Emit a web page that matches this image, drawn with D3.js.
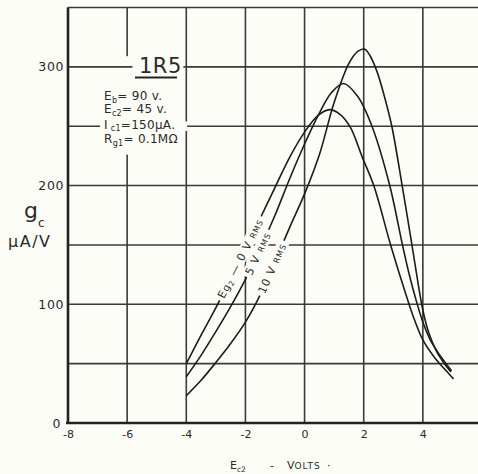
<!DOCTYPE html>
<html><head><meta charset="utf-8">
<script src="https://cdn.jsdelivr.net/npm/d3@7"></script>
<style>
html,body{margin:0;padding:0;background:#fdfdf8;}
svg{display:block;}
text{font-family:"DejaVu Sans",sans-serif;fill:#2a2a2a;}
</style></head><body>
<svg id="c" width="478" height="474"></svg>
<script>
// ---------- data ----------
const xGrid = [-8, -6, -4, -2, 0, 2, 4, 6];
const xTickValues = [-8, -6, -4, -2, 0, 2, 4];
const xTickLabels = ["-8", "-6", "-4", "-2", "0", "2", "4"];
const yGrid = [0, 50, 100, 150, 200, 250, 300, 350];
const yTickValues = [0, 100, 200, 300];
const yTickLabels = ["0", "100", "200", "300"];
const seriesNames = ["0 V RMS", "5 V RMS", "10 V RMS"];

const ec_0V = [-4, -3.5, -2.94, -2.45, -1.94, -1.45, -0.97, -0.5, 0, 0.45, 0.85, 1.2, 1.55, 1.95, 2.34, 2.91, 3.43, 3.7, 4.0, 4.4, 4.75, 5.04];
const gc_0V = [50, 74, 100, 125, 150, 175, 200, 224, 245, 259, 264, 260, 249, 224, 200, 150, 108, 88, 70, 55, 45, 37];

const ec_5V = [-4, -3.5, -3, -2.5, -2, -1.5, -1, -0.5, 0, 0.5, 0.9, 1.32, 1.8, 2.28, 2.88, 3.31, 3.55, 3.8, 4.0, 4.25, 4.55, 4.97];
const gc_5V = [39, 57, 77, 98, 121, 147, 175, 206, 235, 261, 278, 286, 275, 250, 200, 150, 124, 101, 85, 70, 58, 44];

const ec_10V = [-4, -3.5, -3, -2.5, -2, -1.5, -1, -0.5, 0, 0.5, 1.0, 1.5, 1.8, 2.02, 2.2, 2.45, 2.7, 2.95, 3.3, 3.63, 3.85, 4.0, 4.2, 4.45, 4.7, 4.95];
const gc_10V = [23, 36, 51, 67, 85, 108, 136, 165, 193, 226, 270, 303, 313, 315, 310, 296, 275, 250, 200, 150, 116, 95, 76, 61, 51, 43];

const labelAt = [-2.17, -1.58, -1.1];

// ---------- drawing ----------
const W = 478, H = 474, bg = "#fdfdf8";
const svg = d3.select("#c");
svg.append("rect").attr("width", W).attr("height", H).attr("fill", bg);

const x = d3.scaleLinear().domain([-8, 6]).range([68, 482]);
const y = d3.scaleLinear().domain([0, 350]).range([423, 7.5]);
const gridColor = "#3a3a3a";

// vertical grid
svg.append("g").selectAll("line").data(xGrid).join("line")
  .attr("x1", d => x(d)).attr("x2", d => x(d))
  .attr("y1", y(0)).attr("y2", y(350))
  .attr("stroke", gridColor).attr("stroke-width", 1.6);
// break in the -6 line behind the annotation
svg.append("rect").attr("x", x(-6) - 3).attr("width", 6)
  .attr("y", y(309)).attr("height", y(226) - y(309)).attr("fill", bg);

// horizontal grid
svg.append("g").selectAll("line").data(yGrid).join("line")
  .attr("x1", x(-8)).attr("x2", W)
  .attr("y1", d => y(d)).attr("y2", d => y(d))
  .attr("stroke", gridColor).attr("stroke-width", 1.6);
// breaks for the title block
svg.append("rect").attr("x", x(-5.82)).attr("width", x(-4.1) - x(-5.82))
  .attr("y", y(305)).attr("height", y(294) - y(305)).attr("fill", bg);
svg.append("rect").attr("x", x(-6.92)).attr("width", x(-3.97) - x(-6.92))
  .attr("y", y(254)).attr("height", y(246) - y(254)).attr("fill", bg);

// axes lines
svg.append("line").attr("x1", x(-8)).attr("x2", x(-8)).attr("y1", y(0) + 1).attr("y2", y(350))
  .attr("stroke", "#222").attr("stroke-width", 2.6);
svg.append("line").attr("x1", x(-8) - 2).attr("x2", W).attr("y1", y(0)).attr("y2", y(0))
  .attr("stroke", "#222").attr("stroke-width", 2.6);

// tick labels via axes
const gx = svg.append("g").attr("transform", `translate(0,${y(0)})`)
  .call(d3.axisBottom(x).tickValues(xTickValues).tickSize(0).tickPadding(7)
    .tickFormat((d, i) => xTickLabels[i]));
gx.select(".domain").remove();
gx.selectAll("text").attr("font-family", "DejaVu Sans").attr("font-size", 11).attr("fill", "#333");

const gy = svg.append("g").attr("transform", `translate(${x(-8) - 2},0)`)
  .call(d3.axisLeft(y).tickValues(yTickValues).tickSize(0).tickPadding(2)
    .tickFormat((d, i) => yTickLabels[i]));
gy.select(".domain").remove();
gy.selectAll("text").attr("font-family", "DejaVu Sans").attr("font-size", 12.5)
  .attr("letter-spacing", 0.6).attr("fill", "#333")
  .attr("dx", d => d === 0 ? -3 : 0);

// curves
const series = [
  { name: seriesNames[0], xs: ec_0V, ys: gc_0V },
  { name: seriesNames[1], xs: ec_5V, ys: gc_5V },
  { name: seriesNames[2], xs: ec_10V, ys: gc_10V }
];
const line = d3.line().x(d => x(d[0])).y(d => y(d[1])).curve(d3.curveCatmullRom.alpha(0.5));
svg.append("g").selectAll("path").data(series).join("path")
  .attr("d", s => line(s.xs.map((v, i) => [v, s.ys[i]])))
  .attr("fill", "none").attr("stroke", "#1c1c1c").attr("stroke-width", 1.6);

// curve labels (inline, breaking the curve)
function interp(s, v) {
  const i = d3.bisectLeft(s.xs, v);
  if (i <= 0) return s.ys[0];
  const x0 = s.xs[i - 1], x1 = s.xs[i];
  return s.ys[i - 1] + (s.ys[i] - s.ys[i - 1]) * (v - x0) / (x1 - x0);
}
const labelParts = [
  [["E", 11, 0], ["g", 10, 0], ["2", 7, 2], [" \u2014 0 V ", 11, -2], ["RMS", 8, 0]],
  [["5 V ", 11, 0], ["RMS", 8, 0]],
  [["10 V ", 11, 0], ["RMS", 8, 0]]
];
series.forEach((s, k) => {
  const v = labelAt[k];
  const px = x(v), py = y(interp(s, v));
  const pa = [x(v - 0.2), y(interp(s, v - 0.2))], pb = [x(v + 0.2), y(interp(s, v + 0.2))];
  const ang = Math.atan2(pb[1] - pa[1], pb[0] - pa[0]) * 180 / Math.PI;
  const g = svg.append("g").attr("transform", `translate(${px},${py}) rotate(${ang})`);
  const r = g.append("rect").attr("fill", bg);
  const t = g.append("text").attr("text-anchor", "middle").attr("y", 4)
    .attr("letter-spacing", 1).attr("fill", "#2a2a2a");
  labelParts[k].forEach(p => {
    t.append("tspan").attr("font-size", p[1]).attr("dy", p[2]).text(p[0]);
  });
  const len = t.node().getComputedTextLength();
  r.attr("x", -len / 2 - 3).attr("width", len + 6).attr("y", -6).attr("height", 12);
});

// title block
const tb = svg.append("g");
tb.append("text").attr("x", 139).attr("y", 73).attr("font-family", "Liberation Sans")
  .attr("font-size", 21).attr("letter-spacing", 0.5).text("1R5");
tb.append("line").attr("x1", 135).attr("x2", 177).attr("y1", 77.5).attr("y2", 77.5)
  .attr("stroke", "#222").attr("stroke-width", 2);
const info = [
  [["E", 12, 0], ["b", 8, 2.5], ["= 90 v.", 12, -2.5]],
  [["E", 12, 0], ["c2", 8, 2.5], ["= 45 v.", 12, -2.5]],
  [["I", 12, 0], [" c1", 8, 2.5], ["=150\u00b5A.", 12, -2.5]],
  [["R", 12, 0], ["g1", 8, 2.5], ["= 0.1M\u03a9", 12, -2.5]]
];
const infoY = [100, 113, 128.5, 143];
info.forEach((parts, i) => {
  const t = tb.append("text").attr("x", 104).attr("y", infoY[i]).attr("letter-spacing", 0.3);
  parts.forEach(p => t.append("tspan").attr("font-size", p[1]).attr("dy", p[2]).text(p[0]));
});

// y axis title
svg.append("text").attr("x", 24).attr("y", 218).attr("font-size", 22).text("g");
svg.append("text").attr("x", 38).attr("y", 227).attr("font-size", 12).text("c");
svg.append("text").attr("x", 8).attr("y", 247).attr("font-size", 16).attr("letter-spacing", 1.5).text("\u00b5A/V");

// x axis title
const xt = svg.append("text").attr("y", 469).attr("font-size", 11);
xt.append("tspan").attr("x", 230).text("E");
xt.append("tspan").attr("font-size", 7.5).attr("dy", 3).text("c2");
xt.append("tspan").attr("x", 270).attr("dy", -3).text("-");
xt.append("tspan").attr("x", 287).text("V");
xt.append("tspan").attr("font-size", 9).attr("letter-spacing", 1).text("OLTS");
xt.append("tspan").attr("x", 327).text("\u00b7");
</script>
</body></html>
